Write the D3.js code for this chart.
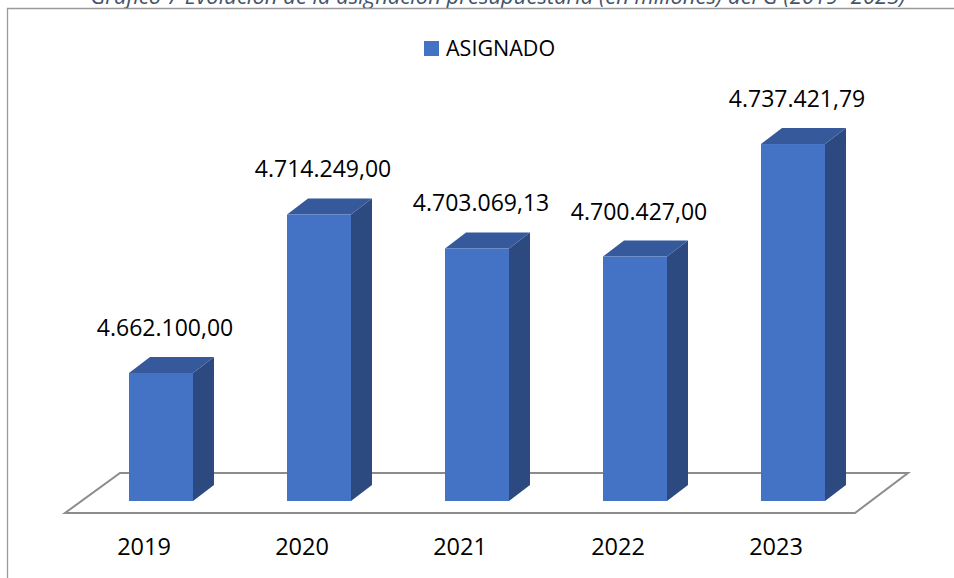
<!DOCTYPE html>
<html>
<head>
<meta charset="utf-8">
<script src="https://cdn.jsdelivr.net/npm/d3@7"></script>
<style>
  html, body { margin: 0; padding: 0; background: #fff; }
  svg { display: block; }
</style>
</head>
<body>
<svg id="chart" width="954" height="578"></svg>
<script>
const years = ["2019", "2020", "2021", "2022", "2023"];
const asignado = [4662100.00, 4714249.00, 4703069.13, 4700427.00, 4737421.79];
const valueLabels = ["4.662.100,00", "4.714.249,00", "4.703.069,13", "4.700.427,00", "4.737.421,79"];
const seriesName = "ASIGNADO";
const titleText = "Gráfico 7 Evolución de la asignación presupuestaria (en millones) del G (2019 -2023)";

const svg = d3.select("#chart");
const W = 954, H = 578;
const font = "'Open Sans', 'Noto Sans', sans-serif";

const colFront = "#4472C4", colTop = "#35599B", colSide = "#2C4A7F";
const depthX = 21, depthY = -16;

// title (partially cut at top, as in the reference)
svg.append("text")
  .attr("x", 498).attr("y", 4)
  .attr("text-anchor", "middle")
  .attr("font-family", font)
  .attr("font-style", "italic")
  .attr("font-size", 22)
  .attr("fill", "#44546A")
  .text(titleText);

// frame
svg.append("path")
  .attr("d", `M7.5,${H} L7.5,8.5 L${W},8.5`)
  .attr("fill", "none")
  .attr("stroke", "#9a9a9a")
  .attr("stroke-width", 1.3);

// scales
const x = d3.scaleBand().domain(years).range([82, 872]).paddingInner(0.595).paddingOuter(0.2975);
const y = d3.scaleLinear().domain([4620000, 4740000]).range([501, 136.2]);

// floor
const floorBackY = 473, floorFrontY = 513;
svg.append("path")
  .attr("d", `M120,${floorBackY} L908,${floorBackY} L855,${floorFrontY} L65,${floorFrontY} Z`)
  .attr("fill", "#fff")
  .attr("stroke", "#8c8c8c")
  .attr("stroke-width", 2);

// bars
const data = years.map((yr, i) => ({ yr, v: asignado[i], lab: valueLabels[i] }));
const g = svg.append("g");
const bw = x.bandwidth();
data.forEach(d => {
  const x0 = x(d.yr), x1 = x0 + bw;
  const yT = y(d.v), yB = y(4620000);
  g.append("path")
    .attr("d", `M${x1},${yT} L${x1 + depthX},${yT + depthY} L${x1 + depthX},${yB + depthY} L${x1},${yB} Z`)
    .attr("fill", colSide);
  g.append("path")
    .attr("d", `M${x0},${yT} L${x0 + depthX},${yT + depthY} L${x1 + depthX},${yT + depthY} L${x1},${yT} Z`)
    .attr("fill", colTop);
  g.append("rect")
    .attr("x", x0).attr("y", yT).attr("width", bw).attr("height", yB - yT)
    .attr("fill", colFront);
  g.append("text")
    .attr("x", x0 + bw / 2 + 4)
    .attr("y", yT + depthY - 21)
    .attr("text-anchor", "middle")
    .attr("font-family", font)
    .attr("font-size", 23)
    .attr("fill", "#000")
    .text(d.lab);
  svg.append("text")
    .attr("x", x0 + bw / 2 - 17)
    .attr("y", 555)
    .attr("text-anchor", "middle")
    .attr("font-family", font)
    .attr("font-size", 23.5)
    .attr("fill", "#000")
    .text(d.yr);
});

// legend
svg.append("rect").attr("x", 424).attr("y", 41).attr("width", 15).attr("height", 15).attr("fill", colFront);
svg.append("text")
  .attr("x", 446).attr("y", 56)
  .attr("font-family", font)
  .attr("font-size", 21.5)
  .attr("fill", "#000")
  .text(seriesName);
</script>
</body>
</html>
